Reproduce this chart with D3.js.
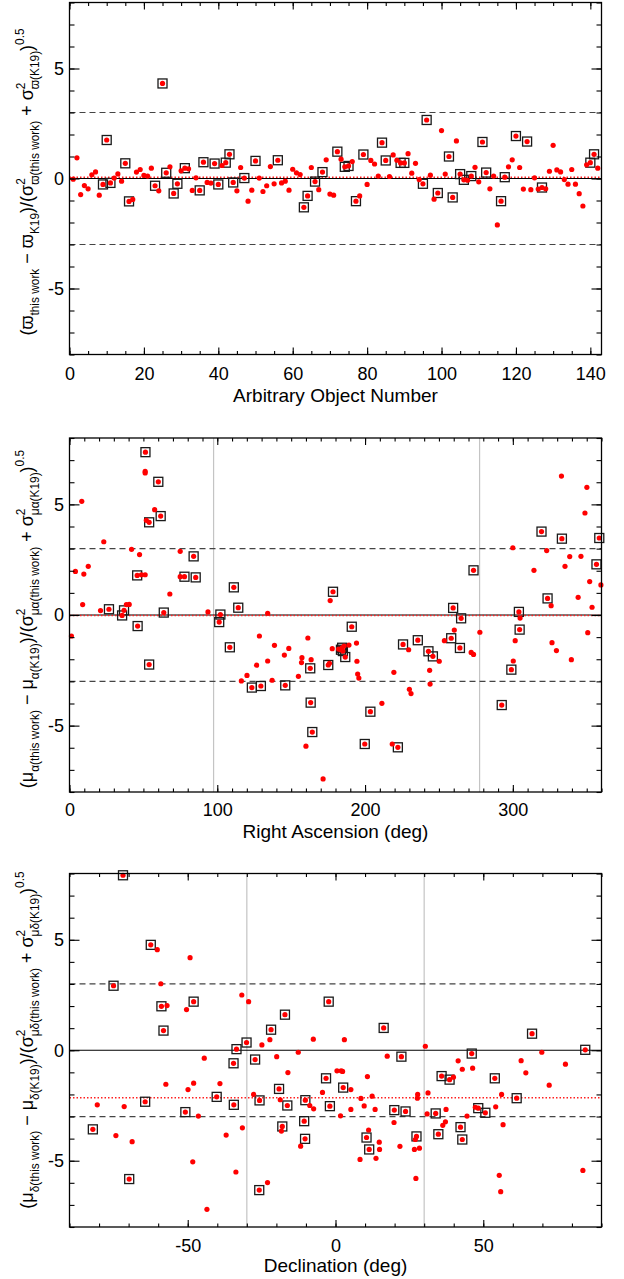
<!DOCTYPE html>
<html><head><meta charset="utf-8">
<script src="https://cdn.jsdelivr.net/npm/d3@7"></script>
<style>
body{margin:0;background:#fff}
svg{display:block}
text{font-family:"Liberation Sans",Arial,Helvetica,sans-serif;fill:#000}
</style>
</head><body><svg id="c" width="624" height="1279"></svg>
<script>
// ---------- Panel 1: parallax, per object ----------
const plxVal = [-0.03,0.94,-0.73,-0.32,-0.47,0.17,0.30,-0.76,-0.27,1.75,
 -0.20,0.02,0.21,-0.12,0.69,-1.04,-0.95,0.29,0.41,0.14,
 0.11,0.47,-0.33,-0.56,4.32,0.26,0.53,-0.68,-0.24,0.35,
 0.47,0.44,-0.54,0.03,-0.54,0.74,-0.18,-0.21,0.68,-0.27,
 0.59,0.72,1.10,-0.18,-0.56,0.50,0.02,-1.03,-0.53,0.80,
 0.02,-0.59,-0.33,0.54,-0.24,0.83,-0.20,-0.12,-0.53,0.42,
 0.26,0.18,-1.31,-0.79,0.50,-0.14,-0.51,0.29,0.85,-0.71,
 -0.76,1.22,0.88,0.53,0.57,0.77,-1.03,-0.79,1.09,-0.27,
 0.82,0.66,0.11,1.63,0.82,0.09,1.07,0.83,0.71,0.71,
 1.13,0.24,0.69,-0.05,-0.24,2.66,0.15,-0.94,-0.66,2.18,
 0.20,1.00,-0.86,1.71,0.20,-0.06,-0.08,0.11,0.51,-0.15,
 1.66,0.27,-0.47,0.11,-2.11,-1.03,0.06,0.53,0.85,1.93,
 0.50,-0.48,1.68,-0.51,0.03,-0.48,-0.41,-0.47,0.33,1.51,
 0.39,0.30,-0.05,-0.26,0.41,-0.26,-0.69,-1.25,0.62,0.72,
 1.10,0.47];
const plxBoxed = [9,10,11,15,16,23,25,26,28,29,31,35,36,39,40,42,43,44,47,50,56,63,64,66,68,72,74,75,77,79,84,85,89,90,95,96,99,102,103,105,106,108,111,112,116,117,120,123,127,140,141];
const plxMean = 0.06;
const plxTicks = [0,20,40,60,80,100,120,140];

// ---------- Panel 2: RA ----------
const raDeg = [1.3,4.0,8.3,8.9,9.7,12.7,21.0,23.2,26.7,35.6,36.9,38.5,40.4,42.0,46.1,45.8,47.4,48.7,51.2,51.4,51.2,51.2,52.0,53.9,53.9,57.6,60.1,61.7,63.8,67.9,74.9,74.9,77.8,84.0,85.4,93.7,101.3,102.1,108.5,111.2,114.2,116.3,120.1,123.4,126.6,128.5,129.5,134.1,134.1,137.1,138.7,145.4,146.0,148.4,154.9,157.3,157.0,160.0,161.3,162.9,163.2,163.5,164.3,171.6,175.1,175.9,176.4,177.8,178.3,182.1,183.7,184.5,185.0,185.8,186.6,189.1,191.0,194.2,194.5,195.0,195.8,199.8,203.6,211.4,218.4,219.5,222.2,225.7,229.5,230.0,231.1,235.7,242.9,243.7,244.0,245.9,250.2,253.7,258.3,259.6,260.4,264.2,265.0,271.8,273.4,273.4,277.7,292.5,299.0,300.0,300.3,301.6,304.1,304.9,304.6,314.3,319.4,326.5,322.9,323.5,329.5,325.9,333.2,332.9,335.3,338.5,339.6,344.2,346.1,348.8,350.1,350.7,352.0,353.6,356.6,358.5,359.6];
const raSig = [-0.95,1.97,5.14,0.47,1.85,2.20,0.20,3.31,0.26,-0.02,0.21,0.47,0.48,2.97,-0.50,1.79,2.73,1.82,1.82,7.36,6.49,6.42,4.28,4.19,-2.24,4.76,6.02,4.47,0.11,0.95,2.88,1.73,1.73,2.65,1.70,0.14,-0.32,0.02,-1.46,1.25,0.33,-2.98,-2.73,-3.28,-2.27,-0.95,-3.21,0.08,-2.08,-2.95,-1.37,-1.81,-3.18,-1.51,-2.77,-1.93,-2.15,-5.93,-1.04,-2.41,-3.96,-2.02,-5.29,-7.41,-2.26,-2.18,0.65,-1.52,1.05,-1.54,-1.57,-1.48,-1.63,-1.40,-1.90,-1.36,-0.53,-1.27,-2.09,-2.67,-2.85,-5.83,-4.37,-3.99,-5.83,-2.59,-5.98,-1.33,-1.57,-3.36,-3.55,-1.14,-1.64,-2.50,-3.12,-1.87,-2.09,-1.16,-1.05,0.32,-0.68,-1.49,-0.15,-1.69,-1.78,2.02,-0.78,-4.07,-2.47,3.04,-2.08,-1.16,0.14,-0.14,-0.66,2.02,3.77,-1.25,2.91,0.75,-1.61,0.42,3.45,6.28,2.20,2.64,-2.02,0.80,2.65,4.61,5.77,-0.80,1.51,0.35,2.29,3.48,1.36];
const raBox = [0,0,0,0,0,0,0,0,1,1,1,0,0,0,1,1,0,0,0,1,
 0,0,0,1,1,0,1,1,1,0,0,0,1,1,1,0,1,1,1,1,
 1,0,0,1,0,0,1,0,0,0,0,0,1,0,0,0,0,0,0,1,
 1,0,1,0,1,0,0,0,1,0,1,1,1,0,1,0,1,0,0,0,
 0,1,1,0,0,0,1,1,0,0,0,1,1,0,0,1,0,0,1,1,
 0,1,1,0,0,1,0,1,1,0,0,0,1,0,1,0,1,0,0,1,
 0,0,1,0,0,0,0,0,0,0,0,0,0,0,1,1,0];
const raMean = -0.02;
const raTicks = [0,100,200,300];
const raGrey = [97.5,277.5];

// ---------- Panel 3: Dec ----------
const decDeg = [-71.9,-82.1,-80.6,-75.1,-74.3,-71.5,-69.8,-68.8,-64.4,-62.5,-60.3,-59.1,-58.9,-58.2,-57.4,-57.0,-50.8,-50.4,-49.9,-49.2,-48.3,-48.0,-48.0,-46.4,-44.4,-43.5,-40.2,-39.1,-37.0,-34.5,-34.4,-33.7,-33.5,-31.7,-31.5,-30.1,-29.4,-27.7,-27.2,-25.8,-25.7,-24.9,-23.0,-22.2,-21.8,-19.9,-19.1,-18.7,-18.3,-18.0,-17.1,-16.3,-16.1,-12.6,-11.8,-10.6,-10.3,-10.2,-8.7,-7.5,-7.4,-4.4,-3.2,-2.3,-1.9,0.5,1.7,1.9,2.4,2.6,3.0,5.2,5.2,8.3,8.6,9.7,10.5,10.8,11.2,11.4,12.4,13.4,13.7,14.8,14.9,16.3,17.5,19.8,19.9,21.8,22.3,23.7,26.7,27.0,27.2,27.4,27.7,27.8,28.4,30.4,31.0,31.3,33.9,34.8,35.9,36.3,37.2,37.4,38.6,39.9,41.5,42.3,42.9,42.9,44.5,46.1,46.4,47.3,48.3,50.7,53.9,54.2,55.4,55.9,56.2,56.7,61.3,62.8,64.4,66.5,69.8,72.3,77.8,83.7,84.5];
const decSig = [7.92,-3.58,-2.47,2.92,-3.86,-2.55,-5.83,-4.14,-2.33,4.77,4.55,3.01,1.99,0.89,-1.54,2.02,-2.80,1.84,-1.78,4.19,-5.05,2.20,-1.49,-2.98,-0.36,-7.20,-2.11,-1.51,-3.84,-0.59,-2.47,-5.51,0.05,2.50,-3.51,0.35,2.20,-2.00,-0.42,-6.33,-2.27,0.24,-5.99,0.48,0.93,-0.29,-1.75,-2.24,-3.66,-3.45,1.61,-2.50,-1.01,-0.09,-4.34,-3.21,-4.01,-2.26,-2.50,0.50,-2.65,-1.91,-1.27,2.20,-2.53,-0.93,-2.97,-0.93,-0.96,-1.69,0.48,-1.78,-2.68,-4.94,-2.18,-2.52,-3.95,-1.19,-3.61,-4.49,-2.08,-2.68,-4.89,-4.16,-4.49,1.01,-0.27,-3.27,-2.71,-4.35,-0.29,-2.77,-4.49,-4.04,-5.80,-3.90,-2.17,-2.00,-4.43,0.18,-2.88,-1.93,-2.86,-3.80,-1.17,-3.40,-3.24,-2.68,-1.33,-1.22,-0.48,-3.48,-4.04,-0.86,-2.98,-0.15,-0.81,-2.58,-2.62,-2.83,-1.27,-2.56,-5.66,-6.40,-2.00,-3.37,-2.17,-0.47,-1.02,0.75,-0.09,-1.58,-0.63,-5.44,0.02];
const decBox = [1,1,0,1,0,0,1,0,1,1,0,0,1,1,0,0,1,0,0,0,0,1,0,0,0,0,1,0,0,1,1,0,1,0,0,1,0,0,1,1,1,0,0,0,1,0,1,0,0,1,1,1,0,0,0,1,1,1,0,0,0,0,1,1,1,0,0,0,0,1,0,0,0,0,0,0,1,0,0,1,0,0,0,0,0,1,0,0,1,0,1,1,0,0,0,1,0,0,0,0,0,0,1,1,1,0,0,0,1,0,0,1,1,0,0,1,0,0,1,1,1,0,0,0,0,0,1,0,0,1,0,0,0,0,1];
const decMean = -2.15;
const decTicks = [-50,0,50];
const decGrey = [-30,30];

const yTicks = [-5,0,5];
const cutLines = [3,-3];

// ---------- drawing ----------
const svg = d3.select("#c");
const L = 69.5, R = 601.5;
const FONT = '"Liberation Sans",Arial,Helvetica,sans-serif';

function label(g, x, yc, parts, fs) {
  const t = g.append("text")
    .attr("transform", `translate(${x},${yc}) rotate(-90)`)
    .attr("text-anchor", "middle")
    .style("font-size", fs + "px");
  const sfs = fs * 0.66;
  let shift = 0;
  const add = (txt, size, target, dx) => {
    const ts = t.append("tspan").text(txt).style("font-size", size + "px")
      .attr("dy", (target - shift).toFixed(2));
    if (dx) ts.attr("dx", dx);
    shift = target;
  };
  parts.forEach(p => {
    if (p[0] === "n") add(p[1], fs, 0);
    else if (p[0] === "sub") add(p[1], sfs, fs * 0.32);
    else if (p[0] === "sup") add(p[1], sfs, -fs * 0.5);
    else if (p[0] === "ss") {
      add(p[1], sfs, -fs * 0.45);
      add(p[2], sfs, fs * 0.32, -(sfs * 0.556).toFixed(2));
    }
  });
}

function panel(cfg) {
  const x = d3.scaleLinear().domain(cfg.xDomain).range([L, R]);
  const y = d3.scaleLinear().domain([-8, 8]).range([cfg.bottom, cfg.top]);
  const g = svg.append("g");

  (cfg.grey || []).forEach(v => {
    g.append("line").attr("x1", x(v)).attr("x2", x(v))
      .attr("y1", cfg.top).attr("y2", cfg.bottom)
      .attr("stroke", "#c4c4c4").attr("stroke-width", 1.2);
  });
  cutLines.forEach(v => {
    g.append("line").attr("x1", L).attr("x2", R).attr("y1", y(v)).attr("y2", y(v))
      .attr("stroke", "#444").attr("stroke-width", 1.2).attr("stroke-dasharray", "6,4");
  });
  g.append("line").attr("x1", L).attr("x2", R).attr("y1", y(0)).attr("y2", y(0))
    .attr("stroke", "#000").attr("stroke-width", 1.1);
  g.append("line").attr("x1", L).attr("x2", R).attr("y1", y(cfg.mean)).attr("y2", y(cfg.mean))
    .attr("stroke", "#ff2020").attr("stroke-width", 1.5).attr("stroke-dasharray", "1.5,2");

  const pts = cfg.xs.map((v, i) => ({ x: v, y: cfg.ys[i], b: cfg.box[i] }));
  g.selectAll("rect.bx").data(pts.filter(d => d.b)).join("rect").attr("class", "bx")
    .attr("x", d => x(d.x) - 4.5).attr("y", d => y(d.y) - 4.5)
    .attr("width", 9).attr("height", 9)
    .attr("fill", "none").attr("stroke", "#1a1a1a").attr("stroke-width", 1.3);
  g.selectAll("circle").data(pts).join("circle")
    .attr("cx", d => x(d.x)).attr("cy", d => y(d.y)).attr("r", 2.6)
    .attr("fill", "#ff0000");

  const clean = s => { s.select(".domain").remove(); s.selectAll("line").attr("stroke", "#000").attr("stroke-width", 1.1); };
  const minorX = d3.range(cfg.xDomain[0], cfg.xDomain[1] + 0.001, cfg.minor);
  const minorY = d3.range(-8, 8.001, 1);

  g.append("g").attr("transform", `translate(0,${cfg.bottom})`)
    .call(d3.axisBottom(x).tickValues(minorX).tickSize(-3.5).tickFormat("")).call(clean);
  g.append("g").attr("transform", `translate(0,${cfg.top})`)
    .call(d3.axisTop(x).tickValues(minorX).tickSize(-3.5).tickFormat("")).call(clean);
  g.append("g").attr("transform", `translate(0,${cfg.top})`)
    .call(d3.axisTop(x).tickValues(cfg.xTicks).tickSize(-7).tickFormat("")).call(clean);
  const bx = g.append("g").attr("transform", `translate(0,${cfg.bottom})`)
    .call(d3.axisBottom(x).tickValues(cfg.xTicks).tickSize(-7).tickPadding(cfg.xpad).tickFormat(d => String(d)))
    .call(clean);
  bx.selectAll("text").style("font-size", "18px").style("font-family", FONT).attr("fill", "#000");

  g.append("g").attr("transform", `translate(${L},0)`)
    .call(d3.axisLeft(y).tickValues(minorY).tickSize(-5).tickFormat("")).call(clean);
  g.append("g").attr("transform", `translate(${R},0)`)
    .call(d3.axisRight(y).tickValues(minorY).tickSize(-5).tickFormat("")).call(clean);
  g.append("g").attr("transform", `translate(${R},0)`)
    .call(d3.axisRight(y).tickValues(yTicks).tickSize(-10).tickFormat("")).call(clean);
  const ly = g.append("g").attr("transform", `translate(${L},0)`)
    .call(d3.axisLeft(y).tickValues(yTicks).tickSize(-10).tickPadding(5.5).tickFormat(d => String(d)))
    .call(clean);
  ly.selectAll("text").style("font-size", "18px").style("font-family", FONT).attr("fill", "#000");

  g.append("rect").attr("x", L).attr("y", cfg.top).attr("width", R - L).attr("height", cfg.bottom - cfg.top)
    .attr("fill", "none").attr("stroke", "#000").attr("stroke-width", 1.3);

  g.append("text").attr("x", (L + R) / 2).attr("y", cfg.titleY).attr("text-anchor", "middle")
    .style("font-size", "19px").text(cfg.title);

  label(g, 33, cfg.labelY, cfg.ylabel, 18);
}

panel({
  xDomain: [0, 143], xTicks: plxTicks, minor: 5, top: 2.5, bottom: 354.5,
  xs: plxVal.map((v, i) => i + 1), ys: plxVal, box: plxVal.map((v, i) => plxBoxed.includes(i + 1) ? 1 : 0),
  mean: plxMean, xpad: 12.5, titleY: 402, title: "Arbitrary Object Number", labelY: 182,
  ylabel: [["n","(ϖ"],["sub","this work"],["n"," − ϖ"],["sub","K19"],["n",")/(σ"],["ss","2","ϖ(this work)"],["n"," + σ"],["ss","2","ϖ(K19)"],["n",")"],["sup","0.5"]]
});
panel({
  xDomain: [0, 360], xTicks: raTicks, minor: 10, top: 438, bottom: 792, grey: raGrey,
  xs: raDeg, ys: raSig, box: raBox,
  mean: raMean, xpad: 11.5, titleY: 838, title: "Right Ascension (deg)", labelY: 619,
  ylabel: [["n","(μ"],["sub","α(this work)"],["n"," − μ"],["sub","α(K19)"],["n",")/(σ"],["ss","2","μα(this work)"],["n"," + σ"],["ss","2","μα(K19)"],["n",")"],["sup","0.5"]]
});
panel({
  xDomain: [-90, 90], xTicks: decTicks, minor: 10, top: 873.5, bottom: 1227, grey: decGrey,
  xs: decDeg, ys: decSig, box: decBox,
  mean: decMean, xpad: 12, titleY: 1272, title: "Declination (deg)", labelY: 1040,
  ylabel: [["n","(μ"],["sub","δ(this work)"],["n"," − μ"],["sub","δ(K19)"],["n",")/(σ"],["ss","2","μδ(this work)"],["n"," + σ"],["ss","2","μδ(K19)"],["n",")"],["sup","0.5"]]
});
</script></body></html>
